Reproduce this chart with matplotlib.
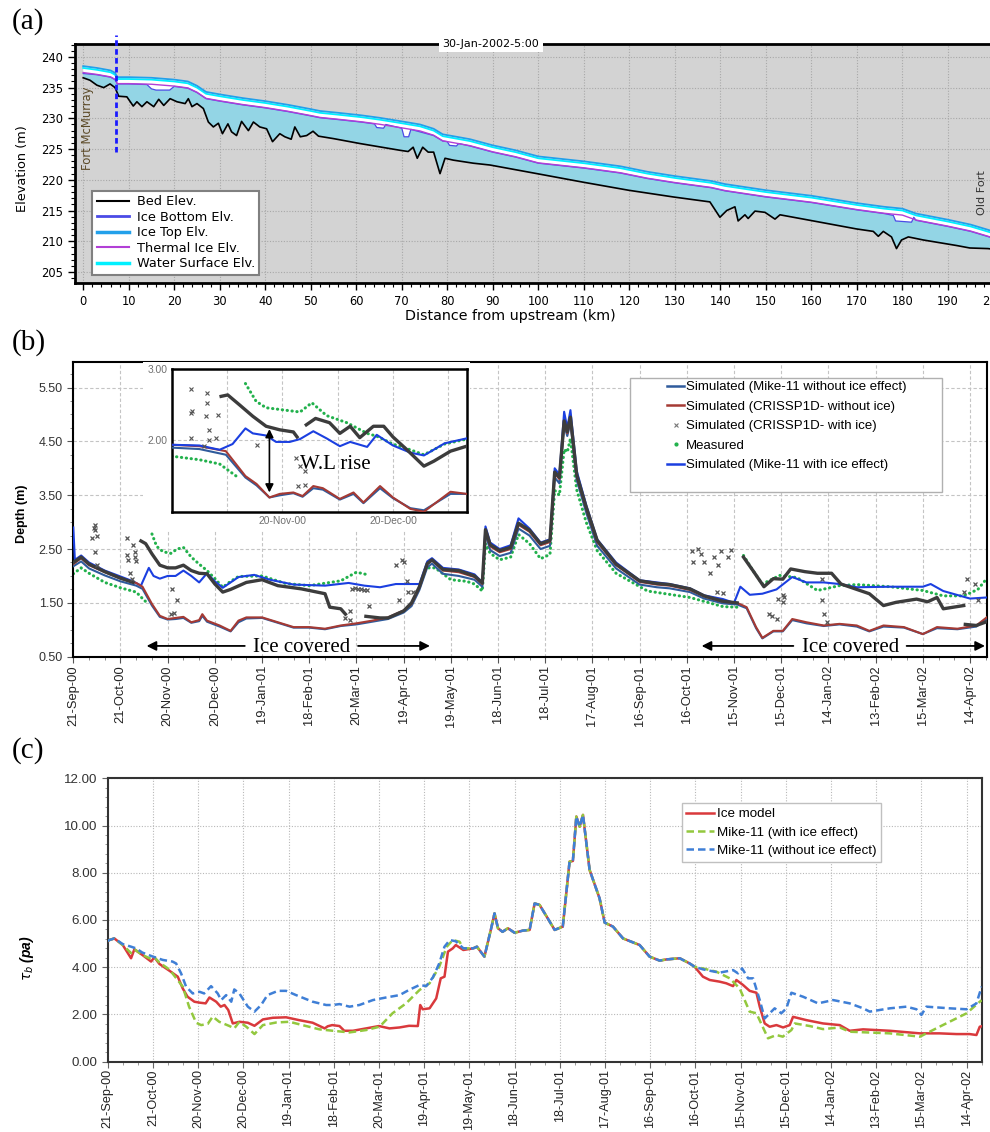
import numpy as np
import matplotlib
matplotlib.use("Agg")
import matplotlib.pyplot as plt
from matplotlib.lines import Line2D
from matplotlib.patches import Rectangle
from matplotlib.ticker import MultipleLocator, FixedLocator, FormatStrFormatter

nan = np.nan

# ---------------- (a) longitudinal profile, 30-Jan-2002 ----------------
bed_km = [0, 1.5, 3, 4.5, 5.9, 7, 7.8, 9.6, 11, 11.8, 12.9, 14, 15.5, 16.6, 17.7, 19.1, 20.6, 22.4, 23.1, 23.9,
          25, 26.4, 27.5, 28.6, 29.7, 30.6, 31.8, 32.6, 33.7, 34.8, 36.3, 37.4, 38.8, 40.3, 41.6, 43.2, 44.3, 45.7, 46.5, 47.7,
          49.1, 50.5, 51.7, 55, 60.8, 69.6, 71.4, 72.5, 73.4, 74.6, 75.8, 77, 78.4, 79.5, 81.3, 85.7, 89.4, 99.7, 109.9, 119.8,
          129.7, 137.7, 139.9, 141.4, 143.2, 143.9, 145.4, 146.1, 147.6, 149.8, 152, 153.1, 159.7, 169.9, 173.6, 174.7, 175.8, 177.6, 178.7, 179.8,
          181.3, 184.6, 191.9, 194.8, 198.8, 201]
bed_elev = [236.6, 236.2, 235.4, 235.0, 235.6, 235.0, 233.6, 233.5, 232.0, 232.7, 231.9, 232.7, 231.9, 233.1, 232.1, 233.2, 232.7, 232.4, 233.2, 231.9,
            232.4, 231.6, 229.4, 228.6, 229.2, 227.5, 229.1, 227.8, 227.2, 229.5, 228.0, 229.4, 228.6, 228.3, 226.2, 227.5, 227.0, 226.6, 228.6, 227.0,
            227.2, 227.9, 227.1, 226.7, 225.9, 224.8, 224.6, 225.3, 223.5, 225.3, 224.5, 224.5, 221.0, 223.5, 223.2, 222.7, 222.4, 221.0, 219.6, 218.3,
            217.2, 216.4, 213.9, 215.0, 215.6, 213.3, 214.3, 213.7, 214.9, 214.7, 213.6, 214.3, 213.4, 212.0, 211.6, 210.8, 211.6, 210.7, 208.8, 210.2,
            210.7, 210.2, 209.3, 208.9, 208.8, 208.6]

surf_km = [0, 3, 6, 7, 7.5, 10, 15, 20, 23, 25, 27, 30, 35, 40, 45, 50, 52, 56, 61, 65, 70, 74, 77, 79, 85, 90, 95, 100,
           110, 118, 124, 130, 138, 141, 150, 160, 170, 176, 180, 183, 190, 195, 199.5, 201]
ice_top = [238.5, 238.2, 237.8, 237.4, 236.7, 236.7, 236.6, 236.3, 236.0, 235.3, 234.3, 233.9, 233.3, 232.8, 232.2, 231.5, 231.2, 230.9, 230.5, 230.1,
           229.5, 229.0, 228.3, 227.4, 226.6, 225.6, 224.8, 223.8, 223.0, 222.2, 221.3, 220.6, 219.8, 219.3, 218.3, 217.4, 216.2, 215.6, 215.3, 214.5,
           213.5, 212.7, 211.7, 211.3]
water_surf = [238.2, 237.9, 237.5, 237.1, 236.4, 236.4, 236.3, 236.0, 235.7, 235.0, 234.0, 233.6, 233.0, 232.5, 231.9, 231.2, 230.9, 230.6, 230.2, 229.8,
              229.2, 228.7, 228.0, 227.1, 226.3, 225.3, 224.5, 223.5, 222.7, 221.9, 221.0, 220.3, 219.5, 219.0, 218.0, 217.1, 215.9, 215.3, 215.0, 214.2,
              213.2, 212.4, 211.4, 211.0]
thermal_ice = [237.45, 237.15, 236.75, 236.35, 235.65, 235.65, 235.55, 235.25, 234.95, 234.25, 233.25, 232.85, 232.25, 231.75, 231.15, 230.45, 230.15, 229.85, 229.45, 229.05,
               228.45, 227.95, 227.25, 226.35, 225.55, 224.55, 223.75, 222.75, 221.95, 221.15, 220.25, 219.55, 218.75, 218.25, 217.25, 216.35, 215.15, 214.55, 214.25, 213.45,
               212.45, 211.65, 210.65, 210.25]

icebot_km = [0, 3, 6, 7, 7.5, 10, 14, 15, 16, 19, 20, 23, 25, 27, 30, 35, 40, 45, 50, 52,
             56, 61, 64, 64.5, 66, 66.5, 70, 70.5, 71.5, 72, 77, 79, 80, 80.5, 82, 82.5, 85, 90, 95, 100,
             110, 118, 124, 130, 138, 141, 150, 160, 170, 176, 178, 178.5, 182, 182.5, 183, 190, 195, 199.5, 201]
icebot_elev = [237.3, 237.1, 236.7, 236.3, 235.6, 235.6, 235.5, 234.8, 234.6, 234.6, 235.2, 234.9, 234.2, 233.2, 232.8, 232.2, 231.7, 231.1, 230.4, 230.1,
               229.8, 229.4, 229.1, 228.5, 228.4, 229.0, 228.4, 227.0, 227.0, 228.2, 227.2, 226.3, 226.2, 225.6, 225.5, 225.9, 225.5, 224.5, 223.7, 222.7,
               221.9, 221.1, 220.2, 219.5, 218.7, 218.2, 217.2, 216.3, 215.1, 214.5, 214.2, 213.3, 213.1, 213.9, 213.4, 212.4, 211.6, 210.6, 210.2]

# ---------------- (b) depth, days after 21-Sep-2000 ----------------
date_labels = ["21-Sep-00", "21-Oct-00", "20-Nov-00", "20-Dec-00", "19-Jan-01", "18-Feb-01", "20-Mar-01",
               "19-Apr-01", "19-May-01", "18-Jun-01", "18-Jul-01", "17-Aug-01", "16-Sep-01", "16-Oct-01",
               "15-Nov-01", "15-Dec-01", "14-Jan-02", "13-Feb-02", "15-Mar-02", "14-Apr-02"]
date_days = [0, 30, 60, 90, 120, 150, 180, 210, 240, 270, 300, 330, 360, 390, 420, 450, 480, 510, 540, 570]

noice_days = [0, 5, 10, 20, 30, 40, 44, 50, 55, 60, 65, 70, 75, 80, 82, 85, 93, 100, 105, 110,
              120, 130, 140, 150, 160, 170, 180, 190, 200, 210, 215, 220, 225, 228, 235, 245, 255, 260, 262, 265,
              271, 278, 283, 290, 297, 303, 306, 309, 312, 314, 316, 320, 326, 333, 345, 360, 371, 379, 392, 401,
              413, 422, 428, 434, 438, 445, 451, 457, 466, 477, 487, 498, 506, 515, 528, 540, 549, 562, 574, 580.6]
crissp_noice = [2.22, 2.33, 2.2, 2.07, 1.95, 1.87, 1.8, 1.48, 1.26, 1.2, 1.22, 1.24, 1.14, 1.18, 1.29, 1.17, 1.08, 0.98, 1.17, 1.23,
                1.23, 1.14, 1.05, 1.05, 1.02, 1.08, 1.12, 1.17, 1.23, 1.36, 1.48, 1.79, 2.22, 2.29, 2.1, 2.07, 1.98, 1.85, 2.84, 2.55,
                2.44, 2.5, 2.95, 2.82, 2.57, 2.63, 3.9, 3.8, 4.85, 4.65, 4.9, 3.85, 3.25, 2.63, 2.2, 1.89, 1.84, 1.82, 1.74, 1.62,
                1.52, 1.5, 1.42, 1.05, 0.85, 0.98, 0.98, 1.2, 1.14, 1.08, 1.11, 1.08, 0.98, 1.08, 1.05, 0.92, 1.05, 1.02, 1.08, 1.23]
mike_noice = [2.18, 2.27, 2.14, 2.01, 1.9, 1.82, 1.76, 1.45, 1.24, 1.19, 1.2, 1.22, 1.13, 1.16, 1.26, 1.15, 1.06, 0.97, 1.14, 1.21,
              1.22, 1.13, 1.04, 1.04, 1.01, 1.07, 1.1, 1.15, 1.2, 1.32, 1.44, 1.74, 2.16, 2.23, 2.04, 2.0, 1.93, 1.8, 2.78, 2.48,
              2.37, 2.43, 2.88, 2.75, 2.5, 2.56, 3.83, 3.72, 4.8, 4.6, 4.85, 3.78, 3.18, 2.56, 2.14, 1.84, 1.79, 1.77, 1.7, 1.58,
              1.49, 1.47, 1.4, 1.03, 0.84, 0.97, 0.97, 1.18, 1.12, 1.07, 1.1, 1.06, 0.97, 1.06, 1.04, 0.92, 1.03, 1.01, 1.06, 1.2]

mike_ice_days = [0, 1, 5, 10, 20, 30, 38, 43, 48, 51, 55, 60, 65, 70, 75, 80, 85, 90, 95, 105,
                 115, 125, 140, 160, 175, 185, 195, 205, 215, 220, 225, 228, 235, 245, 255, 260, 262, 265, 271, 278,
                 283, 290, 297, 303, 306, 309, 312, 314, 316, 320, 326, 333, 345, 360, 371, 379, 392, 401, 413, 420,
                 424, 430, 438, 447, 457, 466, 477, 487, 498, 519, 540, 545, 553, 570, 580.6]
mike_ice = [2.9, 2.3, 2.38, 2.25, 2.1, 1.99, 1.9, 1.82, 2.15, 2.0, 1.95, 2.0, 2.0, 2.1, 2.0, 1.88, 2.05, 1.9, 1.78, 1.98,
            2.02, 1.93, 1.84, 1.82, 1.87, 1.82, 1.79, 1.85, 1.85, 1.85, 2.27, 2.33, 2.15, 2.12, 2.03, 1.88, 2.92, 2.62, 2.5, 2.57,
            3.07, 2.88, 2.62, 2.68, 4.0, 3.88, 5.05, 4.75, 5.08, 3.95, 3.32, 2.68, 2.25, 1.92, 1.88, 1.85, 1.77, 1.64, 1.57, 1.5,
            1.8, 1.65, 1.67, 1.75, 1.98, 1.88, 1.88, 1.85, 1.79, 1.8, 1.8, 1.85, 1.72, 1.58, 1.6]

meas_days = [0, 5, 10, 20, 30, 40, 45, 47, nan, 50, 53, 57, 62, 66, 70, 75, 80, 85, 90, 95,
             100, 105, 120, 135, 150, 170, 180, 186, nan, 226, 230, 240, 250, 255, 260, 262, 265, 271, 278, 283,
             290, 297, 303, 306, 309, 312, 314, 316, 320, 326, 333, 345, 365, 392, 413, 422, nan, 426, 432, 438,
             449, 460, 473, 487, 498, 519, 540, 553, 566, 575, 580.6]
measured = [2.04, 2.15, 2.05, 1.88, 1.78, 1.7, 1.55, 1.5, nan, 2.78, 2.55, 2.45, 2.42, 2.5, 2.53, 2.35, 2.22, 2.1, 1.95, 1.79,
            1.9, 1.99, 2.0, 1.86, 1.82, 1.91, 2.07, 2.03, nan, 2.15, 2.15, 1.93, 1.9, 1.85, 1.72, 2.6, 2.42, 2.3, 2.35, 2.77,
            2.6, 2.32, 2.4, 3.59, 3.5, 4.35, 4.3, 4.55, 3.6, 3.0, 2.47, 2.05, 1.72, 1.6, 1.43, 1.42, nan, 2.38, 2.1, 1.85,
            2.01, 1.97, 1.73, 1.82, 1.84, 1.8, 1.73, 1.63, 1.63, 1.75, 1.95]

crissp_ice_days = [0, 5, 10, 20, 30, 38, nan, 43, 46, 50, 55, 60, 65, 70, 75, 80, 85, 90, 95, 100,
                   110, 120, 130, 145, 160, 163, 170, 173, nan, 186, 195, 200, 210, 215, 220, 225, 228, 235, 245, 255,
                   260, 262, 265, 271, 278, 283, 290, 297, 303, 306, 309, 312, 314, 316, 320, 326, 333, 345, 360, 371,
                   379, 392, 401, 413, 422, nan, 426, 432, 439, 445, 451, 456, 465, 473, 482, 488, 506, 515, 523, 536,
                   543, 549, 553, 566, nan, 567, 574, 580.6]
crissp_ice = [2.25, 2.35, 2.22, 2.08, 1.96, 1.88, nan, 2.65, 2.6, 2.41, 2.2, 2.15, 2.15, 2.2, 2.1, 2.05, 2.04, 1.85, 1.7, 1.75,
              1.88, 1.93, 1.82, 1.76, 1.67, 1.42, 1.39, 1.29, nan, 1.25, 1.22, 1.22, 1.35, 1.5, 1.8, 2.23, 2.3, 2.12, 2.1, 2.0,
              1.87, 2.86, 2.58, 2.47, 2.53, 2.98, 2.85, 2.6, 2.66, 3.93, 3.83, 4.88, 4.68, 4.95, 3.88, 3.28, 2.66, 2.22, 1.91, 1.86,
              1.84, 1.76, 1.63, 1.53, 1.5, nan, 2.35, 2.1, 1.8, 1.95, 1.94, 2.13, 2.08, 2.05, 2.05, 1.85, 1.67, 1.45, 1.51, 1.57,
              1.52, 1.6, 1.39, 1.45, nan, 1.1, 1.08, 1.15]

scatter_days = [12, 13, 13.5, 14, 14, 15, 15, 34, 34, 35, 36, 37, 38, 39, 39, 40, 62, 63, 64, 66,
                173, 176, 176, 177, 179, 181, 183, 185, 187, 188, 205, 207, 209, 210, 212, 213, 216, 393, 394, 397,
                399, 401, 405, 407, 409, 410, 412, 413, 416, 418, 442, 444, 447, 448, 451, 451, 452, 476, 476, 477,
                479, 566, 568, 573, 575]
scatter_vals = [2.7, 2.9, 2.85, 2.95, 2.45, 2.75, 2.2, 2.7, 2.38, 2.3, 2.05, 1.95, 2.58, 2.45, 2.35, 2.28, 1.3, 1.75, 1.32, 1.55,
                1.22, 1.18, 1.35, 1.76, 1.77, 1.75, 1.76, 1.74, 1.73, 1.45, 2.2, 1.55, 2.3, 2.25, 1.9, 1.7, 1.7, 2.47, 2.25, 2.5,
                2.4, 2.25, 2.05, 2.35, 1.7, 2.2, 2.47, 1.68, 2.35, 2.48, 1.3, 1.25, 1.2, 1.58, 1.65, 1.52, 1.6, 1.95, 1.55, 1.3,
                1.15, 1.7, 1.95, 1.85, 1.55]

# inset (21-Oct-00 to 9-Jan-01)
in_days = [30, 37.5, 44.7, 50, 53, 56.5, 59.3, 63, 65.5, 68.4, 71, 75.6, 79.3, 82, 86.5, 90, 94.7, 98.4, 105.6, 110]
in_crissp_noice = [1.94, 1.92, 1.85, 1.5, 1.39, 1.2, 1.25, 1.27, 1.22, 1.36, 1.33, 1.18, 1.27, 1.13, 1.36, 1.2, 1.04, 1.0, 1.28, 1.25]
in_mike_noice = [1.9, 1.88, 1.8, 1.48, 1.37, 1.2, 1.23, 1.26, 1.21, 1.33, 1.31, 1.17, 1.25, 1.12, 1.33, 1.19, 1.05, 1.02, 1.25, 1.25]
in_mike_ice_days = [30, 37.5, 43, 46.5, 50, 52, 55.6, 58.3, 62, 64.8, 68.4, 72, 75.6, 78.4, 83, 85.6, 90, 94.7, 98.4, 104, 110]
in_mike_ice = [1.94, 1.93, 1.87, 1.95, 2.17, 2.1, 2.07, 1.98, 1.98, 2.02, 2.13, 2.03, 1.92, 1.98, 1.91, 2.08, 1.93, 1.83, 1.79, 1.96, 2.03]
in_meas_days = [30, 37.5, 43, 47.5, nan, 50, 52.9, 55.6, 60.2, 64.8, 68, 72, 77.5, 83, 85.6, 90, 94.7, 98.4, 104, 110]
in_measured = [1.78, 1.73, 1.67, 1.5, nan, 2.8, 2.55, 2.46, 2.43, 2.4, 2.53, 2.35, 2.25, 2.1, 2.06, 1.95, 1.87, 1.8, 1.95, 2.02]
in_crissp_ice_days = [43.4, 45.2, 48.4, 52, 55.6, 59.3, 63, 64, nan, 66.5, 69, 72.8, 75.6, 78.4, 81, 84.7, 87.5, 90, 93.8, 98.4, 101.1, 105.6, 110]
in_crissp_ice = [2.62, 2.64, 2.5, 2.34, 2.2, 2.15, 2.12, 2.05, nan, 2.22, 2.31, 2.25, 2.1, 2.2, 2.04, 2.2, 2.2, 2.05, 1.87, 1.64, 1.71, 1.85, 1.92]
in_scatter_days = [35.2, 35.6, 39.7, 39.7, 39.3, 42.5, 35.2, 40, 40.2, 42, 35.2, 38.8, 53.1, 63.8, 64.7, 66.1, 64.3, 66.1]
in_scatter_vals = [2.39, 2.41, 2.67, 2.53, 2.34, 2.36, 2.72, 2.15, 2.01, 2.04, 2.04, 1.92, 1.93, 1.76, 1.64, 1.57, 1.36, 1.37]

# ---------------- (c) bed shear stress ----------------
ice_model_days = [0, 1, 4.4, 10, 15.5, 17.7, 23, 28.8, 31, 34.3, 41, 46.5, 49.8, 53, 57.5, 61, 65, 67.5, 72, 75,
                  77.5, 80, 83, 87.4, 93, 97.4, 103, 109.6, 118.4, 127, 136, 144, 146, 149, 153.8, 157, 162.7, 171.5, 180, 187,
                  193.7, 200, 205.8, 207.4, 209, 213.6, 218, 221, 223.5, 225.8, 229, 231, 236, 242.6, 245, 250, 254.5, 256.7, 259, 262,
                  265.6, 270, 275.5, 280, 283.3, 286.6, 292, 296.6, 302, 306.5, 308.7, 311, 313.2, 315.4, 319.8, 326.4, 329.8, 335.3, 342, 353,
                  359.6, 366.3, 370.7, 379.6, 386.2, 389.5, 395, 399.5, 406, 410.5, 415, 417.2, 421.6, 426, 430.5, 432.7, 436, 439.3, 443.8, 448.2,
                  452.6, 454.8, 463.7, 474.7, 485.8, 492.4, 501.3, 519, 539, 552, 563.3, 572, 576.5, 578.7, 580]
ice_model = [5.1, 5.15, 5.22, 4.94, 4.38, 4.76, 4.52, 4.24, 4.42, 4.14, 3.85, 3.6, 3.1, 2.75, 2.54, 2.5, 2.47, 2.72, 2.54, 2.33,
             2.4, 2.19, 1.62, 1.69, 1.65, 1.52, 1.79, 1.86, 1.88, 1.76, 1.65, 1.41, 1.5, 1.55, 1.51, 1.31, 1.31, 1.41, 1.51, 1.41,
             1.45, 1.52, 1.51, 2.4, 2.22, 2.26, 2.68, 3.53, 3.6, 4.66, 4.8, 4.94, 4.73, 4.8, 4.87, 4.45, 5.65, 6.28, 5.65, 5.5,
             5.65, 5.46, 5.55, 5.58, 6.7, 6.64, 6.07, 5.58, 5.72, 8.47, 8.5, 10.38, 9.95, 10.45, 8.12, 6.92, 5.89, 5.72, 5.22, 4.94,
             4.45, 4.28, 4.33, 4.38, 4.16, 4.02, 3.6, 3.46, 3.39, 3.32, 3.2, 3.46, 3.25, 3.0, 2.92, 2.33, 1.62, 1.48, 1.55, 1.45,
             1.55, 1.9, 1.76, 1.62, 1.55, 1.31, 1.37, 1.31, 1.2, 1.2, 1.17, 1.17, 1.13, 1.48, 1.5]

with_ice_days = [0, 1, 4.4, 10, 15.5, 17.7, 23, 28.8, 31, 34.3, 41, 43, 49.8, 54, 58.7, 62, 66.4, 69.7, 74, 80.8,
                 84, 87.4, 92, 97.4, 103, 111.8, 120.6, 131.7, 140.5, 149.4, 160.5, 171.5, 180.4, 189, 198, 207, 213.6, 220, 225, 229,
                 233.5, 236, 242.6, 245, 250, 254.5, 256.7, 259, 262, 265.6, 270, 275.5, 280, 283.3, 286.6, 292, 296.6, 302, 306.5, 308.7,
                 311, 313.2, 315.4, 319.8, 326.4, 329.8, 335.3, 342, 353, 359.6, 366.3, 370.7, 379.6, 386.2, 389.5, 395, 404, 412.8, 419.4, 426,
                 430.5, 438.2, 443.8, 448, 453.7, 456, 465.9, 474.7, 485.8, 492.4, 519, 539, 552, 570, 578.7, 580]
with_ice = [5.1, 5.15, 5.22, 4.94, 4.6, 4.76, 4.52, 4.35, 4.42, 4.2, 3.9, 3.74, 3.18, 2.33, 1.65, 1.55, 1.6, 1.91, 1.69, 1.51,
            1.41, 1.69, 1.48, 1.17, 1.55, 1.66, 1.69, 1.51, 1.37, 1.31, 1.24, 1.34, 1.48, 2.05, 2.47, 3.04, 3.32, 4.02, 4.87, 5.15,
            5.08, 4.8, 4.8, 4.87, 4.45, 5.65, 6.28, 5.65, 5.5, 5.65, 5.46, 5.55, 5.58, 6.7, 6.64, 6.07, 5.58, 5.72, 8.47, 8.5,
            10.38, 9.95, 10.45, 8.12, 6.92, 5.89, 5.72, 5.22, 4.94, 4.45, 4.28, 4.33, 4.38, 4.16, 4.02, 3.95, 3.81, 3.53, 3.1, 2.12,
            2.05, 0.99, 1.13, 1.06, 1.34, 1.62, 1.51, 1.38, 1.45, 1.27, 1.2, 1.06, 1.48, 2.05, 2.54, 2.6]

without_ice_days = [0, 1, 4.4, 10, 15.5, 18.8, 23, 30, 36.5, 43, 45.4, 48.7, 52, 56.4, 61, 64, 68.6, 73, 75.3, 78.6,
                    82, 84, 87.4, 93, 97.4, 101.8, 106, 113, 118.4, 125, 136, 145, 149.4, 153.8, 160.5, 167, 176, 184.8, 193.7, 200,
                    207, 211.4, 215.8, 220, 223.5, 227, 231, 236, 242.6, 245, 250, 254.5, 256.7, 259, 262, 265.6, 270, 275.5, 280, 283.3,
                    286.6, 292, 296.6, 302, 306.5, 308.7, 311, 313.2, 315.4, 319.8, 326.4, 329.8, 335.3, 342, 353, 359.6, 366.3, 370.7, 379.6, 386.2,
                    389.5, 395, 406, 415, 418.3, 421, 425, 428.3, 432.7, 436, 439.3, 442.6, 447, 450.4, 453.7, 461.5, 471.4, 481.4, 492.4, 501.3,
                    505.7, 519, 530, 536.7, 540, 543.3, 558.8, 570, 576.5, 580]
without_ice = [5.1, 5.15, 5.22, 4.98, 4.87, 4.8, 4.62, 4.45, 4.31, 4.24, 4.16, 3.74, 3.18, 2.89, 2.96, 2.89, 3.2, 2.89, 2.61, 2.82,
               2.54, 3.06, 2.89, 2.33, 2.12, 2.4, 2.82, 3.0, 3.0, 2.82, 2.54, 2.4, 2.4, 2.44, 2.33, 2.4, 2.61, 2.72, 2.82, 3.04,
               3.25, 3.2, 3.57, 4.16, 4.87, 5.15, 5.1, 4.8, 4.8, 4.87, 4.45, 5.65, 6.28, 5.65, 5.5, 5.65, 5.46, 5.55, 5.58, 6.7,
               6.64, 6.07, 5.58, 5.72, 8.47, 8.5, 10.38, 9.95, 10.45, 8.12, 6.92, 5.89, 5.72, 5.22, 4.94, 4.45, 4.28, 4.33, 4.38, 4.16,
               4.02, 3.91, 3.77, 3.88, 3.74, 3.95, 3.53, 3.53, 2.61, 1.83, 2.05, 2.26, 2.05, 2.26, 2.92, 2.75, 2.47, 2.61, 2.47, 2.26,
               2.12, 2.26, 2.33, 2.22, 1.98, 2.33, 2.26, 2.22, 2.47, 3.18]

SANS = "Liberation Sans"
SERIF = "Liberation Serif"
plt.rcParams["font.family"] = SANS

fig = plt.figure(figsize=(9.9, 11.32), dpi=100)
W, H = 990.0, 1132.0


def px_axes(x0, y0, x1, y1):
    return [x0 / W, 1 - y1 / H, (x1 - x0) / W, (y1 - y0) / H]


# ======================= (a) =======================
ax = fig.add_axes(px_axes(75, 44, 998, 283))
ax.set_facecolor("#d3d3d3")
ax.fill(list(icebot_km) + bed_km[::-1], list(icebot_elev) + bed_elev[::-1], color="#93d5e5", lw=0, zorder=2)
ax.fill(list(surf_km) + icebot_km[::-1], list(ice_top) + icebot_elev[::-1], color="white", lw=0, zorder=2)
ax.plot(bed_km, bed_elev, color="black", lw=1.2, zorder=4)
ax.plot(icebot_km, icebot_elev, color="#4b4be6", lw=0.9, zorder=4)
ax.plot(surf_km, thermal_ice, color="#b23fd6", lw=1.0, zorder=4)
ax.plot(surf_km, water_surf, color="#00f0ff", lw=1.3, zorder=4)
ax.plot(surf_km, ice_top, color="#22a0ea", lw=1.3, zorder=4)
ax.plot([7.2, 7.2], [224.5, 243.5], color="#1a1aff", lw=2, ls=(0, (2, 1.2)), clip_on=False, zorder=10)

ax.set_xlim(-1.8, 201)
ax.set_ylim(203.2, 242.1)
ax.xaxis.set_major_locator(MultipleLocator(10))
ax.xaxis.set_minor_locator(MultipleLocator(2))
ax.yaxis.set_major_locator(FixedLocator([205, 210, 215, 220, 225, 230, 235, 240]))
ax.yaxis.set_minor_locator(MultipleLocator(1))
ax.grid(True, which="major", color="#a8a8a8", ls=(0, (1, 1.5)), lw=0.8)
ax.set_axisbelow(True)
ax.tick_params(which="major", length=5, width=1, labelsize=8.3, labelfontfamily="DejaVu Sans")
ax.tick_params(which="minor", length=3, width=0.8)
for s in ax.spines.values():
    s.set_linewidth(2)
ax.set_xlabel("Distance from upstream (km)", family="DejaVu Sans", fontsize=10.3)
ax.xaxis.set_label_coords(0.472, -0.11)
ax.set_ylabel("Elevation (m)", family="DejaVu Sans", fontsize=9.3)
ax.yaxis.set_label_coords(-0.05, 0.48)
ax.text(0.4507, 1.0, "30-Jan-2002-5:00", transform=ax.transAxes, ha="center", va="center",
        family="DejaVu Sans", fontsize=8, bbox=dict(fc="white", ec="none", pad=2.5), zorder=20, clip_on=False)
ax.text(0.85, 228.4, "Fort McMurray", rotation=90, ha="center", va="center", family="DejaVu Sans",
        fontsize=8.4, color="#5c4a28", zorder=6)
ax.text(197.4, 217.9, "Old Fort", rotation=90, ha="center", va="center", family="DejaVu Sans",
        fontsize=8.1, color="#333333", zorder=6)
a_handles = [Line2D([], [], color="black", lw=1.5),
             Line2D([], [], color="#4b4be6", lw=2),
             Line2D([], [], color="#22a0ea", lw=2.5),
             Line2D([], [], color="#b23fd6", lw=1.5),
             Line2D([], [], color="#00f0ff", lw=2.5)]
leg = ax.legend(a_handles, ["Bed Elev.", "Ice Bottom Elv.", "Ice Top Elv.", "Thermal Ice Elv.", "Water Surface Elv."],
                loc="lower left", bbox_to_anchor=(0.0184, 0.0335), borderaxespad=0, fancybox=False,
                framealpha=1, edgecolor="#808080", prop={"family": "DejaVu Sans", "size": 9.3},
                handlelength=2.5, handletextpad=0.6, labelspacing=0.2, borderpad=0.35)
leg.get_frame().set_linewidth(1.5)
leg.set_zorder(15)

# ======================= (b) =======================
C_STEEL = "#2f5b9c"
C_RED = "#a53a34"
C_BLUE = "#1b3fe0"
C_GREEN = "#22b14c"
C_X = "#3c3c3c"

bx = fig.add_axes(px_axes(73.3, 361.7, 986.7, 656.7))
bx.plot(meas_days, measured, color=C_GREEN, lw=2.2, ls=(0, (0.1, 1.5)), dash_capstyle="round", zorder=2)
bx.plot(mike_ice_days, mike_ice, color=C_BLUE, lw=1.5, zorder=3)
bx.plot(noice_days, mike_noice, color=C_STEEL, lw=1.5, zorder=3)
bx.plot(noice_days, crissp_noice, color=C_RED, lw=1.5, zorder=3)
bx.plot(crissp_ice_days, crissp_ice, color=C_X, lw=2.4, zorder=3.5)
bx.plot(scatter_days, scatter_vals, ls="none", marker="x", ms=3.2, mew=0.9, color="#555555", zorder=3.5)
bx.set_xlim(0, 580.6)
bx.set_ylim(0.5, 5.98)
bx.xaxis.set_major_locator(FixedLocator(date_days))
bx.set_xticklabels(date_labels, rotation=90, fontsize=9.3, color="#222222")
bx.xaxis.set_minor_locator(MultipleLocator(10))
bx.yaxis.set_major_locator(FixedLocator([0.5, 1.5, 2.5, 3.5, 4.5, 5.5]))
bx.yaxis.set_major_formatter(FormatStrFormatter("%.2f"))
bx.yaxis.set_minor_locator(MultipleLocator(0.25))
bx.tick_params(axis="y", labelsize=9, labelcolor="#333333")
bx.tick_params(axis="x", pad=2)
bx.tick_params(which="major", length=4, color="#555555")
bx.tick_params(which="minor", length=2, color="#777777")
bx.grid(True, which="major", color="#c4c4c4", ls=(0, (3, 2)), lw=0.8)
bx.set_axisbelow(True)
for s in bx.spines.values():
    s.set_linewidth(1.5)
bx.set_ylabel("Depth (m)", fontsize=9, fontweight="bold")
bx.yaxis.set_label_coords(-0.05, 0.484)

for txt_day, left_from, left_to, right_from, right_to in [(145, 109, 46.6, 181, 226.7), (494, 457.7, 399.4, 529.7, 579.5)]:
    bx.text(txt_day, 0.68, "Ice covered", family=SERIF, fontsize=15, ha="center", va="center", zorder=6)
    for x0, x1 in [(left_from, left_to), (right_from, right_to)]:
        bx.annotate("", xy=(x1, 0.70), xytext=(x0, 0.70),
                    arrowprops=dict(arrowstyle="-|>", color="black", lw=1.3, mutation_scale=14, shrinkA=0, shrinkB=0),
                    zorder=6)

# white backing behind the inset and its labels
bx.add_patch(Rectangle((0.076, 0.43), 0.358, 0.57, transform=bx.transAxes, fc="white", ec="none", zorder=4))

# legend frame + legend
fig.patches.append(Rectangle((630 / W, 1 - 491.7 / H), 311.7 / W, 113.4 / H, transform=fig.transFigure,
                             fc="white", ec="#b0b0b0", lw=1.0, zorder=3))
b_handles = [Line2D([], [], color=C_STEEL, lw=1.8),
             Line2D([], [], color=C_RED, lw=1.8),
             Line2D([], [], color="#777777", marker="x", ls="none", ms=3, mew=0.8),
             Line2D([], [], color=C_GREEN, marker=".", ls="none", ms=4),
             Line2D([], [], color=C_BLUE, lw=1.8)]
bleg = fig.legend(b_handles, ["Simulated (Mike-11 without ice effect)", "Simulated (CRISSP1D- without ice)",
                              "Simulated (CRISSP1D- with ice)", "Measured", "Simulated (Mike-11 with ice effect)"],
                  loc="upper left", bbox_to_anchor=(667 / W, 1 - 381 / H), bbox_transform=fig.transFigure,
                  frameon=False, fontsize=9.5, handlelength=1.3, handletextpad=0.15, labelspacing=0.55,
                  borderpad=0, borderaxespad=0)
bleg.set_zorder(4)

# inset
ix = fig.add_axes(px_axes(171.7, 369.3, 466.7, 511.7))
ix.set_zorder(5)
ix.plot(in_meas_days, in_measured, color=C_GREEN, lw=2.2, ls=(0, (0.1, 1.5)), dash_capstyle="round", zorder=2)
ix.plot(in_days, in_mike_noice, color=C_STEEL, lw=1.5, zorder=3)
ix.plot(in_days, in_crissp_noice, color=C_RED, lw=1.5, zorder=3)
ix.plot(in_mike_ice_days, in_mike_ice, color=C_BLUE, lw=1.5, zorder=3)
ix.plot(in_crissp_ice_days, in_crissp_ice, color=C_X, lw=2.4, zorder=3.5)
ix.plot(in_scatter_days, in_scatter_vals, ls="none", marker="x", ms=3, mew=0.8, color="#555555", zorder=3.5)
ix.annotate("", xy=(56.5, 1.27), xytext=(56.5, 2.16),
            arrowprops=dict(arrowstyle="<|-|>", color="black", lw=1.2, mutation_scale=12, shrinkA=0, shrinkB=0), zorder=6)
ix.text(74.5, 1.66, "W.L rise", family=SERIF, fontsize=15, ha="center", va="center", zorder=6)
ix.set_xlim(30, 110)
ix.set_ylim(1.0, 3.0)
ix.xaxis.set_major_locator(FixedLocator([60, 90]))
ix.set_xticklabels(["20-Nov-00", "20-Dec-00"])
ix.xaxis.set_minor_locator(FixedLocator([45, 75, 105]))
ix.yaxis.set_major_locator(FixedLocator([2.0, 3.0]))
ix.yaxis.set_major_formatter(FormatStrFormatter("%.2f"))
ix.tick_params(which="both", length=0, labelsize=7.4, labelcolor="#707070", pad=3)
ix.grid(True, which="both", color="#c4c4c4", ls=(0, (3, 2)), lw=0.8)
ix.set_axisbelow(True)
for s in ix.spines.values():
    s.set_linewidth(1.8)

# ======================= (c) =======================
C_ICE = "#d9393c"
C_WITH = "#93c83e"
C_WITHOUT = "#3f7fd6"
cx = fig.add_axes(px_axes(107.7, 778.3, 981.7, 1061.7))
cx.plot(ice_model_days, ice_model, color=C_ICE, lw=1.8, zorder=3)
cx.plot(with_ice_days, with_ice, color=C_WITH, lw=1.8, dashes=(3, 1.6), zorder=3)
cx.plot(without_ice_days, without_ice, color=C_WITHOUT, lw=1.8, dashes=(3, 1.6), zorder=3)
cx.set_xlim(0, 580)
cx.set_ylim(0, 12)
cx.xaxis.set_major_locator(FixedLocator(date_days))
cx.set_xticklabels(date_labels, rotation=90, fontsize=9.1, color="#222222")
cx.xaxis.set_minor_locator(MultipleLocator(10))
cx.yaxis.set_major_locator(MultipleLocator(2))
cx.yaxis.set_minor_locator(MultipleLocator(0.4))
cx.yaxis.set_major_formatter(FormatStrFormatter("%.2f"))
cx.tick_params(axis="y", labelsize=9.6, labelcolor="#333333")
cx.tick_params(axis="x", pad=1.5)
cx.tick_params(which="major", length=4, color="#666666")
cx.tick_params(which="minor", length=2, color="#888888")
cx.grid(True, which="major", color="#b8b8b8", ls=(0, (1, 1.5)), lw=0.8)
cx.set_axisbelow(True)
for s in cx.spines.values():
    s.set_linewidth(1.5)
    s.set_color("#333333")
cx.set_ylabel(r"$\tau_b$ (pa)", fontsize=10, fontweight="bold", fontstyle="italic")
cx.yaxis.set_label_coords(-0.082, 0.366)
c_handles = [Line2D([], [], color=C_ICE, lw=1.8),
             Line2D([], [], color=C_WITH, lw=1.8, dashes=(3, 1.6)),
             Line2D([], [], color=C_WITHOUT, lw=1.8, dashes=(3, 1.6))]
cleg = cx.legend(c_handles, ["Ice model", "Mike-11 (with ice effect)", "Mike-11 (without ice effect)"],
                 loc="upper left", bbox_to_anchor=(681.7 / W, 1 - 803.3 / H), bbox_transform=fig.transFigure,
                 borderaxespad=0, fancybox=False, framealpha=1, edgecolor="#c0c0c0", fontsize=9.6,
                 handlelength=2.1, handletextpad=0.2, labelspacing=0.45, borderpad=0.35)

# panel labels
for lab, ypx in [("(a)", 22), ("(b)", 343), ("(c)", 751)]:
    fig.text(12 / W, 1 - ypx / H, lab, family=SERIF, fontsize=21, va="center", ha="left")

fig.savefig("out.png", dpi=100)
